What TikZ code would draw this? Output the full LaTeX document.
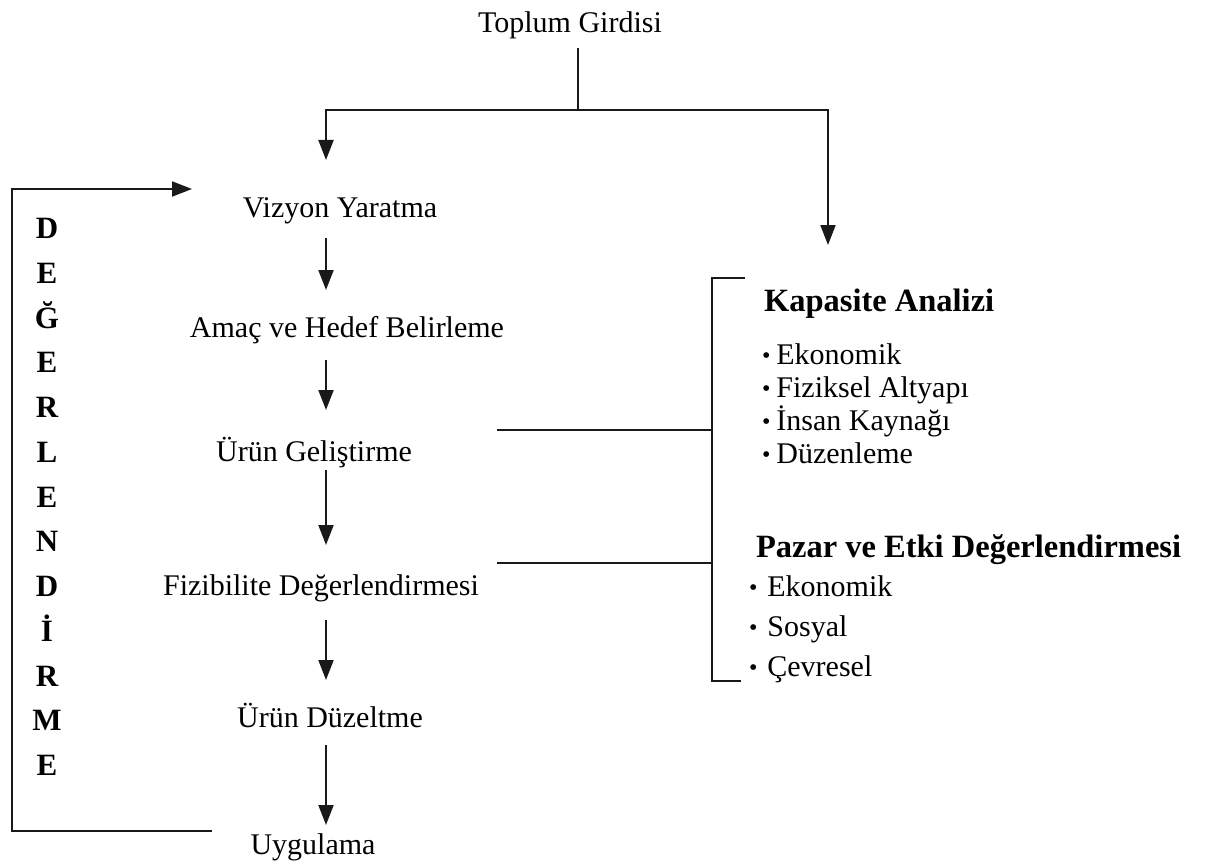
\documentclass[tikz,border=0pt]{standalone}
\usepackage{fontspec}
\setmainfont{Liberation Serif}
\usetikzlibrary{arrows.meta}
\tikzset{
  txt/.style={font=\fontsize{30}{36}\selectfont, inner sep=0pt, outer sep=0pt},
  hd/.style={txt, font=\fontsize{32.5}{36}\selectfont\bfseries},
  ln/.style={line width=2pt, draw=black!90},
  arr/.style={ln, -{Triangle[length=20pt, width=15pt]}},
}
\newcommand{\bul}{\raisebox{1pt}{\scalebox{0.8}{\textbullet}}}

\begin{document}
\begin{tikzpicture}[x=1pt, y=-1pt]
  \useasboundingbox (0,0) rectangle (1205,864);
  % Steps
  \node[txt] (top) at (570,25) {Toplum Girdisi};
  \node[txt] (vizyon) at (340,211) {Vizyon Yaratma};
  \node[txt] (amac) at (347,330) {Amaç ve Hedef Belirleme};
  \node[txt] (urun) at (314,453) {Ürün Geliştirme};
  \node[txt] (fiz) at (321,588) {Fizibilite Değerlendirmesi};
  \node[txt] (duz) at (330,715) {Ürün Düzeltme};
  \node[txt] (uyg) at (313,847) {Uygulama};

  % Feedback label
  \node[hd, align=center, font=\fontsize{31}{44.75}\selectfont\bfseries] (deg) at (47,497)
    {D\\E\\Ğ\\E\\R\\L\\E\\N\\D\\İ\\R\\M\\E};

  % Right side
  \node[hd, anchor=west] (kap) at (764,304) {Kapasite Analizi};
  \node[txt, anchor=north west, align=left, font=\fontsize{30}{33}\selectfont] (kaplist) at (762,344)
    {\bul\kern6pt Ekonomik\\\bul\kern6pt Fiziksel Altyapı\\\bul\kern6pt İnsan Kaynağı\\\bul\kern6pt Düzenleme};
  \node[hd, anchor=west] (paz) at (756,550) {Pazar ve Etki Değerlendirmesi};
  \node[txt, anchor=north west, align=left, font=\fontsize{30}{40}\selectfont] (pazlist) at (749,576)
    {\bul\kern10pt Ekonomik\\\bul\kern10pt Sosyal\\\bul\kern10pt Çevresel};

  \coordinate (axis) at (326,0);
  \coordinate (split) at (578,110);
  \coordinate (tipL) at (326,160);
  \coordinate (tipR) at (828,245);
  \coordinate (brk) at (712,0);
  \coordinate (brtop) at (745,278);
  \coordinate (brbot) at (741,681);
  \coordinate (fbstart) at (212,831);
  \coordinate (fbend) at (192,189);

  % Top split
  \draw[ln] (split |- 0,48) -- (split);
  \draw[arr] (split) -| (tipL);
  \draw[arr] (split) -| (tipR);

  % Step arrows
  \draw[arr] (axis |- 0,238) -- (axis |- 0,290);
  \draw[arr] (axis |- 0,360) -- (axis |- 0,410);
  \draw[arr] (axis |- 0,470) -- (axis |- 0,545);
  \draw[arr] (axis |- 0,620) -- (axis |- 0,680);
  \draw[arr] (axis |- 0,745) -- (axis |- 0,825);

  % Feedback loop
  \draw[arr] (fbstart) -| (12,189) -- (fbend);

  % Links to bracket
  \draw[ln] (497,430) -- (brk |- 0,430);
  \draw[ln] (497,563) -- (brk |- 0,563);
  \draw[ln] (brtop) -| (brk |- brbot) -- (brbot);
\end{tikzpicture}
\end{document}
